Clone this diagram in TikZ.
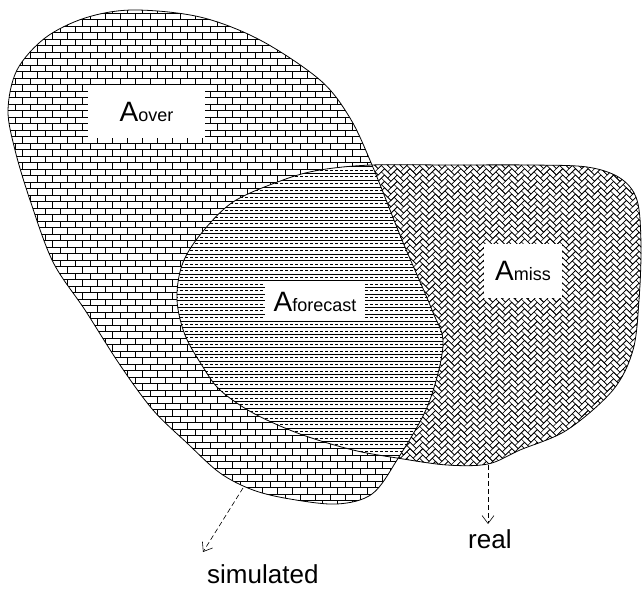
\documentclass[tikz,border=0pt]{standalone}
\usepackage{fontspec}
\setmainfont{Liberation Sans}
\usetikzlibrary{arrows.meta}
\newcommand\bigA{\fontsize{28}{30}\selectfont}
\newcommand\smallsub{\fontsize{18}{20}\selectfont}
\begin{document}
\begin{tikzpicture}[x=1pt,y=-1pt,
  outline/.style={draw=black, line width=0.8pt},
  patline/.style={draw=black, line width=0.6pt},
  labbox/.style={fill=white, inner sep=0pt},
  caption/.style={font=\fontsize{26}{28}\selectfont, inner sep=0pt},
  pointer/.style={draw=black, line width=0.6pt, dash pattern=on 5pt off 3pt, -{Straight Barb[length=8pt,width=12pt]}}]
\useasboundingbox (0,0) rectangle (642,591);
\def\simpath{plot[smooth cycle, tension=0.55] coordinates {(133,10) (200,17) (260,40) (320,80) (350,118) (372,165) (402,240) (432,310) (443,345) (428,405) (397,460) (372,494) (337,504) (290,499) (253,490) (220,473) (187,443) (153,410) (120,365) (85,310) (53,262) (30,200) (15,150) (8,110) (17,70) (45,38) (85,18)}}
\def\realpath{plot[smooth cycle, tension=0.55] coordinates {(177,300) (182,265) (200,235) (233,202) (283,180) (320,170) (372,165) (450,165) (530,165) (587,167) (620,178) (637,200) (641,245) (639,300) (633,350) (613,390) (567,430) (520,450) (488,464) (447,465) (397,458) (353,450) (300,434) (253,413) (220,390) (203,367) (185,335)}}
% bricks in simulated
\begin{scope}
  \clip \simpath;
  \foreach \r in {0,...,79} {
    \pgfmathsetmacro\yy{\r*6.5}
    \pgfmathsetmacro\off{mod(\r,2)*7.5}
    \draw[patline] (0,\yy) -- (460,\yy);
    \draw[patline] \foreach \k in {0,...,31} {(\k*15+\off,\yy) -- ++(0,6.5)};
  }
\end{scope}
% herringbone in real
\begin{scope}
  \clip \realpath;
  \begin{scope}[shift={(410,315)}, rotate=-45]
    \foreach \a in {-28,...,28} {
      \draw[patline] \foreach \b in {-20,...,20} {
        ({(\a+2*\b)*4.5},{(\a-2*\b)*4.5}) rectangle ++(9,4.5)
        ({(\a+2*\b)*4.5},{(\a-2*\b)*4.5+4.5}) rectangle ++(4.5,9)};
    }
  \end{scope}
\end{scope}
% horizontal lines in intersection
\begin{scope}
  \clip \simpath;
  \clip \realpath;
  \fill[white] (170,150) rectangle (460,480);
  \foreach \r in {0,...,50} {
    \pgfmathsetmacro\yy{160+\r*6.7}
    \draw[patline] (170,\yy) -- (460,\yy);
    \draw[patline, dash pattern=on 3.3pt off 1.7pt] (170,\yy+3.35) -- (460,\yy+3.35);
  }
\end{scope}
\draw[outline] \simpath;
\draw[outline] \realpath;
% labels
\node[labbox, minimum width=117pt, minimum height=53pt] (over) at (146.5,111.5) {\bigA A\smallsub over};
\node[labbox, minimum width=100pt, minimum height=36pt] (forecast) at (315,302) {\bigA A\smallsub forecast};
\node[labbox, minimum width=78pt, minimum height=54pt] (miss) at (523,271) {\bigA A\smallsub miss};
% pointers
\coordinate (s1) at (243,488);
\coordinate (s2) at (203,552);
\coordinate (r1) at (488,465);
\coordinate (r2) at (488,524);
\draw[pointer] (s1) -- (s2);
\draw[pointer] (r1) -- (r2);
\node[caption, anchor=base west] (simlab) at (207,583) {simulated};
\node[caption, anchor=base west] (reallab) at (468,548) {real};
\end{tikzpicture}
\end{document}
